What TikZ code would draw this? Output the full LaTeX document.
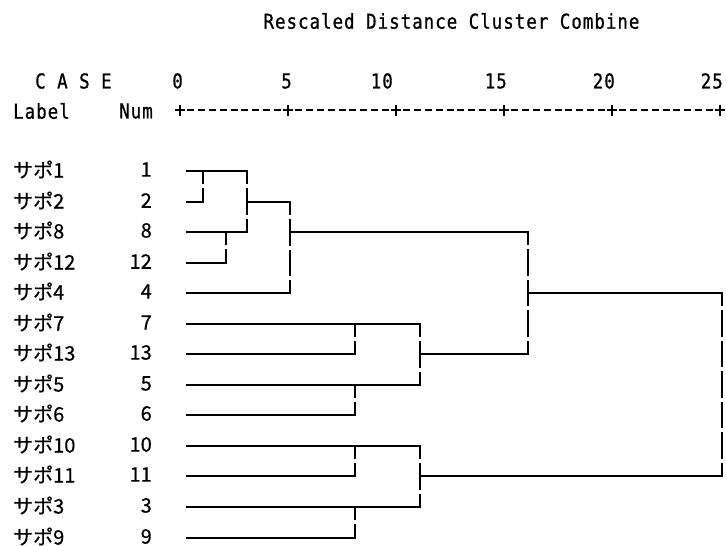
\documentclass[tikz,border=0pt]{standalone}
\usepackage{fontspec}
\usetikzlibrary{calc}
\newfontfamily\jpfont[FakeBold=0.6]{Noto Sans CJK JP}
\newfontfamily\spssfont[FakeStretch=0.85,LetterSpace=5,FakeBold=0.8]{DejaVu Sans Mono}
\begin{document}
\begin{tikzpicture}[x=1pt,y=-1pt,
  hline/.style={line width=2pt, line cap=rect},
  vmerge/.style={line width=2pt, dash pattern=on 26.55pt off 4pt, dash phase=13.3pt},
  scaleline/.style={line width=2pt, dash pattern=on 7pt off 3.8pt, dash phase=3.5pt},
  tickmark/.style={line width=2pt},
  lbl/.style={anchor=west, inner sep=0pt, font=\jpfont\fontsize{20}{20}\selectfont},
  num/.style={anchor=east, inner sep=0pt, font=\jpfont\fontsize{20}{20}\selectfont},
  hdr/.style={inner sep=0pt, font=\spssfont\fontsize{20.5}{20.5}\selectfont},
]
\useasboundingbox (0,0) rectangle (726,546);

% headings
\node[hdr] (title) at (451.5,21) {Rescaled Distance Cluster Combine};
\node[hdr, anchor=west] (case) at (35,81) {C A S E};
\node[hdr, anchor=west] (label) at (13,111) {Label};
\node[hdr, anchor=east] (num) at (153,111) {Num};

% distance scale: ticks every 5 units
\foreach \k/\v/\r in {0/0/183,1/5/292,2/10/393,3/15/507,4/20/615,5/25/723}{
  \coordinate (t\k) at ({180+108*\k},110);
  \node[hdr, anchor=east] (s\k) at (\r,81) {\v};
  \draw[tickmark] ($(t\k)+(-5,0)$) -- ($(t\k)+(5,0)$);
  \draw[tickmark] ($(t\k)+(0,-5.5)$) -- ($(t\k)+(0,5.5)$);
}
\draw[scaleline] (t0) -- (t5);

% cases, in dendrogram order (case / row position)
\foreach \c/\y in {1/171,2/202,8/232,12/263,4/293,7/324,13/354,5/385,6/415,10/446,11/476,3/507,9/538}{
  \coordinate (c\c) at (187,\y);
  \node[lbl] (lab\c) at (13,\y-1.5) {サポ\c};
  \node[num] (n\c) at (152,\y-1.5) {\c};
}

% merge levels
\coordinate (xA) at (203,0);
\coordinate (xB) at (226,0);
\coordinate (xAB) at (247,0);
\coordinate (xABC) at (290,0);
\coordinate (xD) at (355,0);
\coordinate (xDE) at (420,0);
\coordinate (xTop) at (528,0);
\coordinate (xRoot) at (722,0);

% cluster 1-2-8-12-4
\draw[hline] (c1) -- (c1 -| xAB);
\draw[hline] (c2) -- (c2 -| xA);
\draw[vmerge] (c1 -| xA) -- (c2 -| xA);
\draw[hline] (c8) -- (c8 -| xAB);
\draw[hline] (c12) -- (c12 -| xB);
\draw[vmerge] (c8 -| xB) -- (c12 -| xB);
\draw[vmerge] (c1 -| xAB) -- (c8 -| xAB);
\draw[hline] (c2 -| xAB) -- (c2 -| xABC);
\draw[hline] (c4) -- (c4 -| xABC);
\draw[vmerge] (c2 -| xABC) -- (c4 -| xABC);
\draw[hline] (c8 -| xABC) -- (c8 -| xTop);

% cluster 7-13-5-6
\draw[hline] (c7) -- (c7 -| xDE);
\draw[hline] (c13) -- (c13 -| xD);
\draw[vmerge] (c7 -| xD) -- (c13 -| xD);
\draw[hline] (c5) -- (c5 -| xDE);
\draw[hline] (c6) -- (c6 -| xD);
\draw[vmerge] (c5 -| xD) -- (c6 -| xD);
\draw[vmerge] (c7 -| xDE) -- (c5 -| xDE);
\draw[hline] (c13 -| xDE) -- (c13 -| xTop);
\draw[vmerge] (c8 -| xTop) -- (c13 -| xTop);
\draw[hline] (c4 -| xTop) -- (c4 -| xRoot);

% cluster 10-11-3-9
\draw[hline] (c10) -- (c10 -| xDE);
\draw[hline] (c11) -- (c11 -| xD);
\draw[vmerge] (c10 -| xD) -- (c11 -| xD);
\draw[hline] (c3) -- (c3 -| xDE);
\draw[hline] (c9) -- (c9 -| xD);
\draw[vmerge] (c3 -| xD) -- (c9 -| xD);
\draw[vmerge] (c10 -| xDE) -- (c3 -| xDE);
\draw[hline] (c11 -| xDE) -- (c11 -| xRoot);

% final merge
\draw[vmerge] (c4 -| xRoot) -- (c11 -| xRoot);
\end{tikzpicture}
\end{document}
